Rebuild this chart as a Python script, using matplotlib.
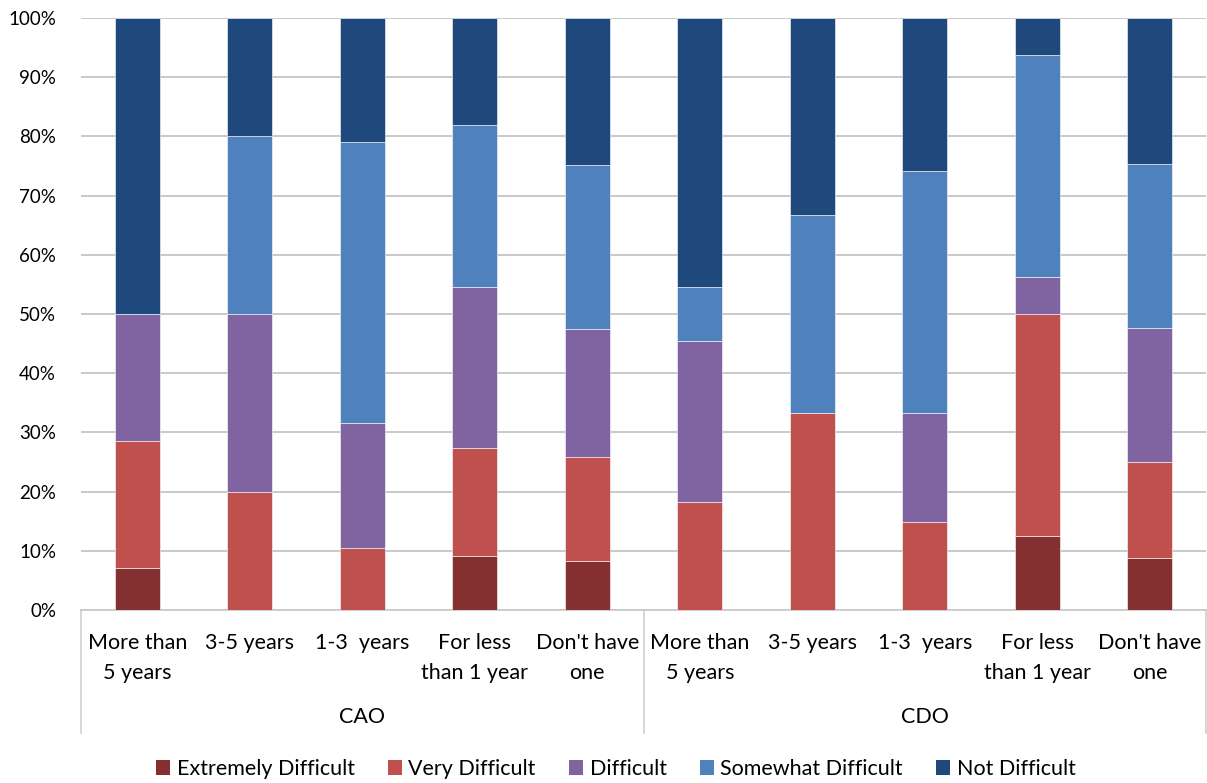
import numpy as np
import matplotlib.pyplot as plt
from matplotlib.patches import Patch

plt.rcParams['font.family'] = ['Lato', 'DejaVu Sans']

groups = ["CAO", "CDO"]
tenure = ["More than\n5 years", "3-5 years", "1-3  years",
          "For less\nthan 1 year", "Don't have\none"]
levels = ["Extremely Difficult", "Very Difficult", "Difficult",
          "Somewhat Difficult", "Not Difficult"]
colors = ["#843030", "#C0504D", "#8064A2", "#4F81BD", "#1F497D"]

# share of respondents (%) per level, CAO bars then CDO bars
extremely = [7.1, 0.0, 0.0, 9.1, 8.3, 0.0, 0.0, 0.0, 12.5, 8.7]
very = [21.5, 20.0, 10.5, 18.2, 17.6, 18.2, 33.3, 14.8, 37.5, 16.3]
difficult = [21.4, 30.0, 21.1, 27.3, 21.5, 27.3, 0.0, 18.5, 6.25, 22.6]
somewhat = [0.0, 30.0, 47.4, 27.3, 27.8, 9.1, 33.4, 40.8, 37.5, 27.7]
not_diff = [50.0, 20.0, 21.0, 18.1, 24.8, 45.4, 33.3, 25.9, 6.25, 24.7]

series = [extremely, very, difficult, somewhat, not_diff]

W, H = 1207, 783
fig = plt.figure(figsize=(W / 100, H / 100), dpi=100)
ax = fig.add_axes([81 / W, 173 / H, 1125 / W, 592 / H])

x = np.arange(len(groups) * len(tenure))
bottom = np.zeros(len(x))
for vals, col in zip(series, colors):
    vals = np.array(vals)
    ax.bar(x, vals, width=0.4, bottom=bottom, color=col,
           edgecolor="#ffffff", linewidth=0.4, zorder=3)
    bottom += vals

ax.set_xlim(-0.5, len(x) - 0.5)
ax.set_ylim(0, 100)
ax.set_yticks(np.arange(0, 101, 10))
ax.set_yticklabels([f"{v}%" for v in range(0, 101, 10)], fontsize=13.5)
ax.tick_params(axis="y", length=0, pad=18)
ax.set_xticks([])
ax.grid(axis="y", color="#c0c0c0", linewidth=1.2, zorder=0)
for s in ["top", "right", "left"]:
    ax.spines[s].set_visible(False)
ax.spines["bottom"].set_color("#c8c8c8")
ax.spines["bottom"].set_linewidth(1.2)

# two-level category axis
fs = 15.5
trans = ax.get_xaxis_transform()
labels = tenure * len(groups)
for xi, lab in zip(x, labels):
    ax.text(xi, -23 / 592, lab, transform=trans, ha="center", va="top",
            fontsize=fs, linespacing=1.6)
for gi, g in enumerate(groups):
    center = gi * len(tenure) + (len(tenure) - 1) / 2
    ax.text(center, -107 / 592, g, transform=trans, ha="center",
            va="center", fontsize=fs)
for sep in [-0.5, len(tenure) - 0.5, len(x) - 0.5]:
    ax.plot([sep, sep], [0, -123 / 592], transform=trans, color="#d0d0d0",
            linewidth=1.2, clip_on=False)

handles = [Patch(facecolor=c, edgecolor="none") for c in colors]
fig.legend(handles, levels, loc="center", bbox_to_anchor=(616 / W, 1 - 769 / H),
           ncol=5, frameon=False, fontsize=fs, handlelength=0.65,
           handleheight=0.65, handletextpad=0.3, columnspacing=1.55)

fig.savefig("out.png", dpi=100)
